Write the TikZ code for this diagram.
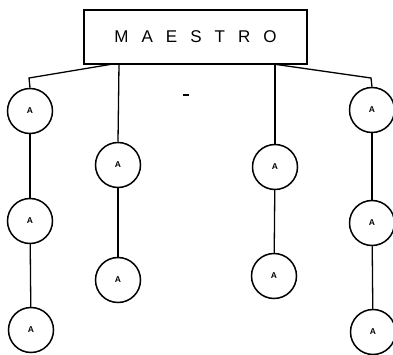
\documentclass[tikz,border=0pt]{standalone}
\usepackage{fontspec}
\setmainfont{Liberation Sans}
\begin{document}
\begin{tikzpicture}[x=1pt,y=-1pt,
  anode/.style={circle,draw,line width=1.5pt,minimum size=45pt,inner sep=0pt,font=\fontsize{8.5}{8.5}\selectfont\bfseries},
  link/.style={line width=1.3pt},
  boxnode/.style={draw,line width=1.4pt,minimum width=223pt,minimum height=54pt,inner sep=0pt,font=\fontsize{17}{17}\selectfont}]
\useasboundingbox (0,0) rectangle (393,355);
\node[boxnode] (m) at (195.5,37) {M\hspace{13pt}A\hspace{13pt}E\hspace{13pt}S\hspace{13pt}T\hspace{13pt}R\hspace{13pt}O};
% column 1
\node[anode] (a1) at (30,111) {A};
\node[anode] (a2) at (30,221) {A};
\node[anode] (a3) at (31,330) {A};
% column 2
\node[anode] (b1) at (118,165) {A};
\node[anode] (b2) at (118,280) {A};
% column 3
\node[anode] (c1) at (275,167) {A};
\node[anode] (c2) at (274,276) {A};
% column 4
\node[anode] (d1) at (372,110) {A};
\node[anode] (d2) at (372,223) {A};
\node[anode] (d3) at (373,332) {A};
% connection points on the box
\coordinate (m1) at (113,64);
\coordinate (m2) at (119,64);
\coordinate (m3) at (275,64);
\coordinate (m4) at (273,64);
\coordinate (k1) at (29,78);
\coordinate (k4) at (371,78);
\draw[link] (m1) -- (k1) -- (a1.north);
\draw[link] (m2) -- (b1.north);
\draw[link] (m3) -- (c1.north);
\draw[link] (m4) -- (k4) -- (d1.north);
\draw[link] (a1) -- (a2);
\draw[link] (a2) -- (a3);
\draw[link] (b1) -- (b2);
\draw[link] (c1) -- (c2);
\draw[link] (d1) -- (d2);
\draw[link] (d2) -- (d3);
% small stray mark
\coordinate (s1) at (183,95);
\coordinate (s2) at (189,95);
\draw[line width=1.3pt] (s1) -- (s2);
\end{tikzpicture}
\end{document}
